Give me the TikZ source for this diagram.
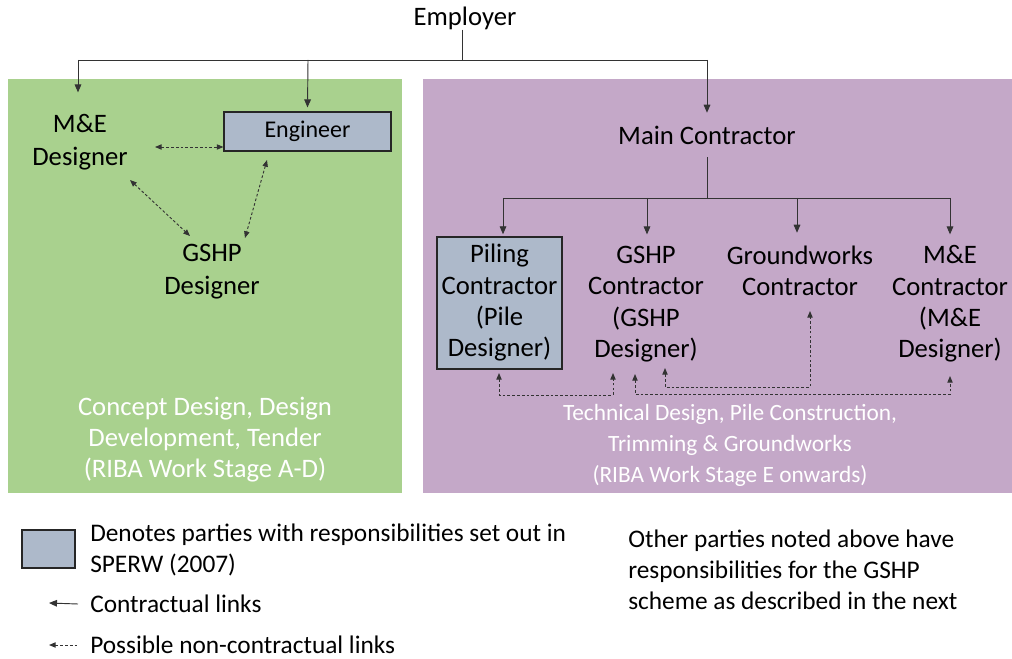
\documentclass[tikz,border=0pt]{standalone}
\usepackage{fontspec}
\setmainfont{Carlito}
\usetikzlibrary{arrows.meta}
\definecolor{greenbg}{RGB}{169,209,142}
\definecolor{purplebg}{RGB}{196,168,200}
\definecolor{boxgray}{RGB}{173,185,202}
\begin{document}
\begin{tikzpicture}[x=0.75pt,y=-0.75pt,
  party/.style={font=\fontsize{20}{23.5}\selectfont, align=center, inner sep=0pt},
  partyb/.style={font=\fontsize{20}{24.75}\selectfont, align=center, inner sep=0pt},
  stage/.style={font=\fontsize{20}{23.25}\selectfont, align=center, text=white, inner sep=0pt},
  stageb/.style={font=\fontsize{17.5}{23.25}\selectfont, align=center, text=white, inner sep=0pt},
  legtext/.style={font=\fontsize{19}{23.25}\selectfont, align=left, inner sep=0pt, anchor=west},
  graybox/.style={draw=black!85, line width=1.1pt, fill=boxgray},
  cline/.style={line width=0.7pt, black!80},
  carrow/.style={cline, -{Triangle[length=6pt,width=5pt]}},
  darrow/.style={line width=0.7pt, black!80, dash pattern=on 2pt off 1.6pt, {Triangle[length=5pt,width=4pt]}-{Triangle[length=5pt,width=4pt]}},
  darrowone/.style={line width=0.7pt, black!80, dash pattern=on 2pt off 1.6pt, {Triangle[length=5pt,width=4pt]}-}
]
\useasboundingbox (0,0) rectangle (1012,659);

% backgrounds
\fill[greenbg] (8,79) rectangle (402,493);
\fill[purplebg] (423,79) rectangle (1012,493);

% top
\node[party] (emp) at (465,18) {Employer};
\node[partyb, minimum height=54pt] (me) at (80,142) {M\&E\\Designer};
\node[graybox, font=\fontsize{18}{20}\selectfont, minimum width=125pt, minimum height=29pt, inner sep=0pt] (eng) at (307.5,131.5) {Engineer};
\node[partyb] (gd) at (212,272) {GSHP\\Designer};
\node[party, minimum height=33pt] (mc) at (707,135) {Main Contractor};

% purple parties
\node[graybox, party, minimum width=93.75pt, minimum height=99pt] (pc) at (499.5,303) {Piling\\Contractor\\(Pile\\Designer)};
\node[party, minimum height=104pt] (gc) at (646,304) {GSHP\\Contractor\\(GSHP\\Designer)};
\node[party, minimum height=57pt] (gw) at (800,271) {Groundworks\\Contractor};
\node[party, minimum height=104pt] (mec) at (950,304) {M\&E\\Contractor\\(M\&E\\Designer)};

% stage texts
\node[stage] (st1) at (205,440) {Concept Design, Design\\Development, Tender\\(RIBA Work Stage A-D)};
\node[stageb] (st2) at (730,445) {Technical Design, Pile Construction,\\Trimming \& Groundworks\\(RIBA Work Stage E onwards)};

% contractual links
\coordinate (jE) at (462,60);
\coordinate (jL) at (78,60);
\coordinate (jM) at (308,60);
\coordinate (jR) at (707,60);
\draw[cline] (jE |- emp.south) -- (jE);
\draw[cline] (jL) -- (jR);
\draw[carrow] (jL) -- ([yshift=10pt]jL |- me.north);
\draw[carrow] (jM) -- ([yshift=3pt]eng.north);
\draw[carrow] (jR) -- (mc.north);

\coordinate (kC) at (707,198);
\coordinate (kL) at (503,198);
\coordinate (kG) at (647,198);
\coordinate (kW) at (797,198);
\coordinate (kR) at (950,198);
\draw[cline] (mc.south) -- (kC);
\draw[cline] (kL) -- (kR);
\draw[carrow] (kL) -- ([yshift=1.5pt]kL |- pc.north);
\draw[carrow] (kG) -- (kG |- gc.north);
\draw[carrow] (kW) -- (kW |- gw.north);
\draw[carrow] (kR) -- (mec.north);

% non-contractual links (green)
\coordinate (meR) at (155,147);
\coordinate (meB) at (130,180);
\coordinate (gdL) at (190,236);
\coordinate (gdR) at (245,238);
\coordinate (engB) at (267,160);
\draw[darrow] (meR) -- (eng.west |- meR);
\draw[darrow] (meB) -- (gdL);
\draw[darrow] (engB) -- (gdR);

% non-contractual links (purple)
\coordinate (p1) at (499,373);
\coordinate (p2) at (613,373);
\coordinate (p3) at (635,374);
\coordinate (p4) at (665,368);
\coordinate (p5) at (810,311);
\coordinate (p6) at (950,376);
\draw[darrow] (p1) -- (499,395) -- (613,395) -- (p2);
\draw[darrow] (p3) -- (635,394) -- (950,394) -- (p6);
\draw[darrow] (p4) -- (665,387) -- (810,387) -- (p5);

% legend
\node[graybox, minimum width=39.75pt, minimum height=28.5pt, inner sep=0pt] (lb) at (48.5,549) {};
\node[legtext] (lt1) at (90,550) {Denotes parties with responsibilities set out in\\SPERW (2007)};
\node[legtext] (lt2) at (90,604) {Contractual links};
\node[legtext] (lt3) at (90,645) {Possible non-contractual links};
\coordinate (la1) at (49,603);
\coordinate (la2) at (49,645);
\draw[carrow] ([xshift=-9pt]lt2.west) -- (la1);
\draw[darrowone] (la2) -- ([xshift=-8pt]lt3.west);

\node[legtext] (rt) at (628,570) {Other parties noted above have\\responsibilities for the GSHP\\scheme as described in the next};
\end{tikzpicture}
\end{document}
